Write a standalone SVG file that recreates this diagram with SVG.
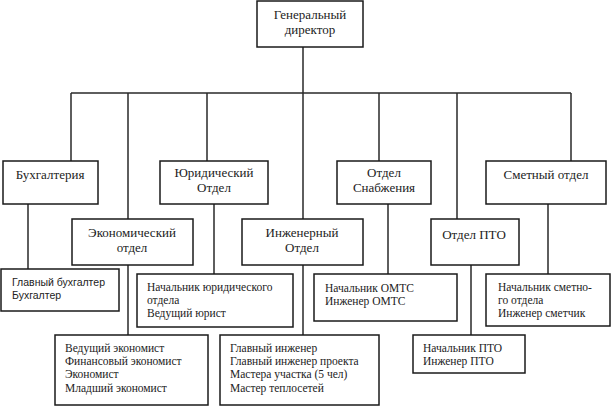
<svg xmlns="http://www.w3.org/2000/svg" width="611" height="408" viewBox="0 0 611 408">
<style>
.box{fill:#fff;stroke:#1a1a1a;stroke-width:1.5}
.ln{stroke:#2a2a2a;stroke-width:1.5;fill:none}
.t{font-family:"Liberation Serif","Times New Roman","DejaVu Serif",serif;font-size:13px;fill:#222}
.c{text-anchor:middle}
.s{font-family:"Liberation Serif","Times New Roman","DejaVu Serif",serif;font-size:11.5px;fill:#222}
.a{font-family:"Liberation Sans","DejaVu Sans",sans-serif;font-size:10.5px;fill:#222}
</style>
<rect width="611" height="408" fill="#fff"/>
<g id="connectors">
<path class="ln" d="M303 47V93M71 93H571M71 93V161M128 93V219M128 265V335M207 93V161M214 204V274M303 93V219M303 265V335M379 93V161M388 204V274M457 93V219M471 265V335M571 93V161M548 204V274M28 204V269"/>
</g>
<g id="director"><rect class="box" x="257" y="1" width="106" height="46"/><text class="t c" x="310" y="19">Генеральный</text><text class="t c" x="310" y="34">директор</text></g>
<g id="buh"><rect class="box" x="3" y="161" width="95" height="43"/><text class="t c" x="50" y="179">Бухгалтерия</text></g>
<g id="yur"><rect class="box" x="160" y="161" width="108" height="43"/><text class="t c" x="214" y="177">Юридический</text><text class="t c" x="214" y="192">Отдел</text></g>
<g id="snab"><rect class="box" x="337" y="161" width="94" height="43"/><text class="t c" x="384" y="177">Отдел</text><text class="t c" x="384" y="192">Снабжения</text></g>
<g id="smet"><rect class="box" x="486" y="161" width="120" height="43"/><text class="t c" x="546" y="179">Сметный отдел</text></g>
<g id="econ"><rect class="box" x="72" y="219" width="121" height="46"/><text class="t c" x="132" y="237">Экономический</text><text class="t c" x="132" y="252">отдел</text></g>
<g id="ing"><rect class="box" x="242" y="219" width="121" height="46"/><text class="t c" x="302" y="237">Инженерный</text><text class="t c" x="302" y="252">Отдел</text></g>
<g id="pto"><rect class="box" x="431" y="219" width="88" height="46"/><text class="t c" x="474" y="239">Отдел ПТО</text></g>
<g id="buh-staff"><rect class="box" x="1" y="269" width="118" height="42"/><text class="a" x="12" y="286">Главный бухгалтер</text><text class="a" x="12" y="299">Бухгалтер</text></g>
<g id="yur-staff"><rect class="box" x="137" y="274" width="156" height="53"/><text class="s" x="147" y="291">Начальник юридического</text><text class="s" x="147" y="304">отдела</text><text class="s" x="147" y="317">Ведущий юрист</text></g>
<g id="omts-staff"><rect class="box" x="314" y="274" width="143" height="47"/><text class="s" x="325" y="292">Начальник ОМТС</text><text class="s" x="325" y="305">Инженер ОМТС</text></g>
<g id="smet-staff"><rect class="box" x="486" y="274" width="124" height="52"/><text class="s" x="498" y="291">Начальник сметно-</text><text class="s" x="498" y="304">го отдела</text><text class="s" x="498" y="317">Инженер сметчик</text></g>
<g id="econ-staff"><rect class="box" x="55" y="335" width="153" height="70"/><text class="s" x="65" y="352">Ведущий экономист</text><text class="s" x="65" y="365">Финансовый экономист</text><text class="s" x="65" y="378">Экономист</text><text class="s" x="65" y="392">Младший экономист</text></g>
<g id="ing-staff"><rect class="box" x="220" y="335" width="159" height="70"/><text class="s" x="230" y="352">Главный инженер</text><text class="s" x="230" y="365">Главный инженер проекта</text><text class="s" x="230" y="378">Мастера участка (5 чел)</text><text class="s" x="230" y="392">Мастер теплосетей</text></g>
<g id="pto-staff"><rect class="box" x="413" y="335" width="112" height="38"/><text class="s" x="423" y="352">Начальник ПТО</text><text class="s" x="423" y="365">Инженер ПТО</text></g>
</svg>
